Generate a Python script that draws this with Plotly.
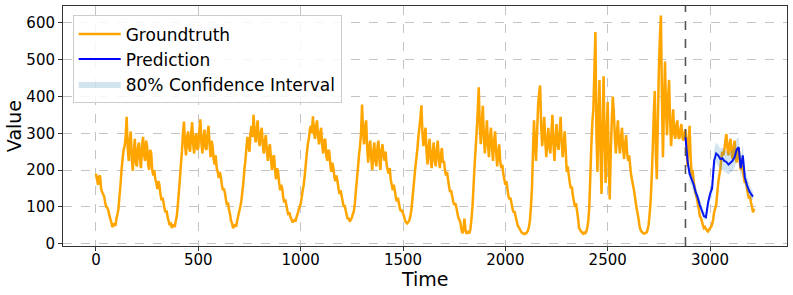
import numpy as np
import plotly.graph_objects as go

# ---- data ----
gt_step = 5
groundtruth = [
    190, 175, 160, 182, 185, 150, 140, 135, 128, 112, 100, 98, 92, 78, 68, 58, 45, 50, 55, 48,
    68, 80, 95, 130, 160, 200, 230, 255, 265, 290, 345, 260, 225, 280, 305, 230, 198, 250, 285, 220,
    210, 260, 275, 230, 205, 265, 290, 240, 225, 280, 265, 215, 200, 255, 245, 200, 185, 200, 175, 165,
    148, 170, 160, 135, 118, 125, 112, 95, 85, 90, 72, 62, 50, 58, 43, 48, 52, 45, 62, 75,
    105, 140, 175, 215, 250, 300, 332, 270, 240, 290, 305, 260, 250, 300, 330, 270, 245, 290, 300, 255,
    260, 310, 338, 275, 245, 290, 310, 260, 255, 300, 320, 270, 235, 280, 265, 230, 215, 240, 205, 195,
    178, 195, 182, 160, 145, 150, 138, 120, 105, 112, 92, 80, 62, 55, 42, 48, 52, 46, 62, 75,
    88, 100, 115, 140, 165, 200, 225, 260, 290, 265, 250, 300, 320, 290, 350, 300, 275, 310, 335, 280,
    265, 300, 315, 270, 245, 280, 295, 250, 225, 260, 270, 230, 200, 235, 240, 200, 175, 205, 195, 165,
    145, 160, 150, 125, 112, 120, 105, 90, 78, 85, 72, 66, 58, 62, 64, 60, 72, 80, 92, 100,
    108, 125, 145, 160, 185, 215, 245, 270, 285, 310, 320, 300, 346, 300, 285, 320, 335, 290, 270, 300,
    315, 270, 245, 280, 285, 240, 225, 255, 250, 215, 195, 220, 205, 180, 170, 185, 170, 150, 135, 145,
    130, 115, 100, 105, 90, 78, 66, 70, 60, 65, 70, 80, 88, 110, 145, 175, 205, 240, 265, 300,
    378, 300, 270, 320, 335, 260, 220, 265, 280, 230, 200, 250, 275, 225, 210, 260, 280, 225, 200, 255,
    270, 240, 225, 250, 215, 200, 190, 205, 175, 160, 145, 160, 145, 125, 115, 125, 110, 95, 88, 92,
    82, 75, 62, 58, 55, 58, 62, 72, 88, 115, 145, 175, 205, 230, 255, 290, 315, 340, 376, 300,
    265, 290, 315, 250, 215, 260, 285, 230, 205, 250, 275, 225, 210, 255, 280, 230, 205, 240, 260, 220,
    225, 200, 185, 195, 175, 155, 140, 145, 130, 115, 105, 110, 100, 85, 72, 65, 58, 40, 28, 35,
    68, 40, 27, 30, 32, 28, 42, 70, 105, 160, 215, 260, 305, 360, 425, 320, 270, 330, 375, 290,
    245, 290, 335, 270, 235, 290, 315, 260, 225, 280, 305, 250, 210, 245, 270, 225, 205, 215, 190, 175,
    160, 170, 150, 130, 120, 125, 110, 95, 85, 88, 75, 62, 50, 45, 40, 35, 30, 28, 26, 28,
    27, 30, 35, 45, 62, 100, 150, 250, 335, 270, 225, 300, 375, 410, 430, 320, 265, 300, 345, 280,
    235, 280, 315, 260, 245, 300, 350, 270, 225, 280, 325, 270, 255, 300, 345, 280, 235, 270, 305, 250,
    195, 210, 185, 165, 150, 155, 130, 115, 100, 110, 90, 70, 42, 38, 33, 30, 27, 30, 28, 32,
    42, 60, 100, 180, 265, 330, 365, 470, 575, 300, 195, 350, 445, 250, 135, 320, 455, 280, 165, 300,
    385, 220, 120, 250, 335, 400, 355, 290, 245, 300, 335, 270, 245, 290, 315, 260, 230, 270, 295, 245,
    225, 240, 210, 185, 170, 155, 140, 120, 100, 85, 70, 50, 38, 33, 30, 28, 27, 29, 30, 38,
    52, 80, 118, 180, 255, 350, 415, 250, 175, 330, 475, 560, 620, 400, 235, 380, 495, 360, 295, 400,
    445, 330, 265, 320, 365, 300, 285, 320, 335, 290, 285, 310, 325, 290, 280, 300, 310, 280, 210, 270,
    320, 240, 185, 200, 170, 150, 135, 125, 110, 95, 75, 70, 62, 50, 42, 45, 40, 36, 33, 38,
    42, 45, 52, 65, 85, 95, 105, 135, 165, 185, 200, 230, 250, 240, 255, 280, 298, 260, 240, 270,
    285, 250, 230, 260, 280, 240, 220, 245, 260, 225, 200, 215, 198, 180, 165, 170, 152, 135, 122, 130,
    112, 100, 85, 95,
]

split_time = 2880
pred_step = 10
prediction = [
    290, 225, 190, 175, 160, 140, 125, 105, 90, 75,
    72, 110, 135, 150, 225, 245, 240, 230, 232, 225,
    222, 215, 220, 225, 235, 255, 262, 205, 240, 180,
    160, 145, 135, 128,
]
ci_lower = [
    280, 205, 170, 155, 140, 122, 108, 90, 78, 65,
    64, 92, 115, 128, 195, 220, 210, 200, 200, 195,
    192, 188, 192, 198, 205, 228, 235, 180, 210, 158,
    140, 128, 120, 118,
]
ci_upper = [
    300, 245, 210, 195, 180, 158, 142, 120, 104, 88,
    84, 115, 155, 175, 255, 275, 268, 258, 262, 255,
    252, 245, 250, 255, 262, 285, 290, 232, 270, 205,
    182, 165, 152, 140,
]

x_ticks = [0, 500, 1000, 1500, 2000, 2500, 3000]
y_ticks = [0, 100, 200, 300, 400, 500, 600]

# ---- figure ----
t_gt = np.arange(len(groundtruth)) * gt_step
t_pred = split_time + np.arange(len(prediction)) * pred_step

FONT = "DejaVu Sans"
fig = go.Figure()

fig.add_trace(go.Scatter(
    x=t_gt, y=groundtruth, mode="lines", name="Groundtruth",
    line=dict(color="#FFA500", width=2.5, simplify=False),
))
fig.add_trace(go.Scatter(
    x=t_pred, y=prediction, mode="lines", name="Prediction",
    line=dict(color="#0000FF", width=2, simplify=False),
))
fig.add_trace(go.Scatter(
    x=t_pred, y=ci_lower, mode="lines", showlegend=False,
    line=dict(width=0, color="rgba(0,0,0,0)"), hoverinfo="skip",
))
fig.add_trace(go.Scatter(
    x=t_pred, y=ci_upper, mode="lines", name="80% Confidence Interval",
    line=dict(width=0, color="rgba(0,0,0,0)"), fill="tonexty",
    fillcolor="rgba(31,119,180,0.2)",
))

fig.add_shape(
    type="line", x0=split_time, x1=split_time, xref="x",
    y0=0, y1=1, yref="paper",
    line=dict(color="#555555", width=1.6, dash="dash"),
)

axis_common = dict(
    showline=True, mirror=True, linecolor="#333333", linewidth=1,
    ticks="outside", ticklen=4, tickcolor="#333333",
    showgrid=True, gridcolor="#c4c4c4", gridwidth=1, griddash="dash",
    zeroline=False, tickfont=dict(family=FONT, size=15, color="black"),
)

fig.update_layout(
    width=793, height=295,
    margin=dict(l=63, r=6, t=6, b=49),
    paper_bgcolor="white", plot_bgcolor="white",
    font=dict(family=FONT, color="black"),
    xaxis=dict(range=[-161, 3376], tickvals=x_ticks, ticklabelstandoff=-4,
               **axis_common),
    yaxis=dict(range=[-6.5, 646], tickvals=y_ticks, **axis_common),
    annotations=[
        dict(text="Time", xref="paper", yref="paper", x=0.5, y=-0.136,
             xanchor="center", yanchor="middle", showarrow=False,
             font=dict(family=FONT, size=19, color="black")),
        dict(text="Value", xref="paper", yref="paper", x=-0.0675, y=0.5,
             xanchor="center", yanchor="middle", showarrow=False, textangle=-90,
             font=dict(family=FONT, size=19, color="black")),
    ],
    legend=dict(
        x=0.0134, y=0.961, xanchor="left", yanchor="top",
        bgcolor="rgba(255,255,255,0.85)", bordercolor="#cccccc", borderwidth=1,
        font=dict(family=FONT, size=17), traceorder="normal", itemwidth=42,
    ),
    showlegend=True,
)

fig.write_html(
    "out.html",
    config={"displayModeBar": False},
    post_script="document.body.style.margin='0';",
)
